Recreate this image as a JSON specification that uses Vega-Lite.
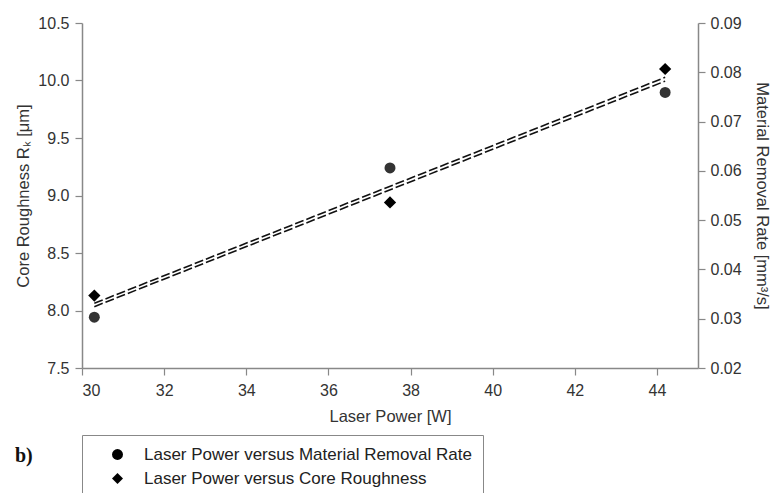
{
  "$schema": "https://vega.github.io/schema/vega-lite/v6.json",
  "width": 616,
  "height": 345,
  "autosize": "none",
  "padding": {"left": 82, "top": 23, "right": 76, "bottom": 125},
  "background": "white",
  "config": {
    "view": {"stroke": null},
    "font": "Liberation Sans",
    "axis": {
      "domainColor": "#888888",
      "tickColor": "#888888",
      "domainWidth": 1.5,
      "tickWidth": 1.2,
      "tickSize": 7,
      "labelFont": "Liberation Sans",
      "labelFontSize": 16,
      "labelColor": "#333333",
      "titleFont": "Liberation Sans",
      "titleFontSize": 16.5,
      "titleFontWeight": "normal",
      "titleColor": "#333333",
      "grid": false
    }
  },
  "title": {
    "text": "b)",
    "orient": "bottom",
    "anchor": "start",
    "frame": "group",
    "font": "Liberation Serif",
    "fontSize": 20,
    "fontWeight": "bold",
    "color": "#111111",
    "dx": -67,
    "dy": -53,
    "offset": 0
  },
  "data": {
    "values": [
      {"power": 30.3, "rk": 8.13, "mrr": 0.0303},
      {"power": 37.5, "rk": 8.94, "mrr": 0.0606},
      {"power": 44.2, "rk": 10.1, "mrr": 0.0759}
    ]
  },
  "layer": [
    {
      "layer": [
        {
          "transform": [{"regression": "rk", "on": "power"}],
          "mark": {"type": "line", "color": "#111111", "strokeWidth": 1.6, "strokeDash": [9, 3]},
          "encoding": {
            "x": {"field": "power", "type": "quantitative"},
            "y": {"field": "rk", "type": "quantitative"}
          }
        },
        {
          "mark": {"type": "point", "filled": true, "opacity": 1, "size": 150},
          "encoding": {
            "x": {
              "field": "power", "type": "quantitative",
              "scale": {"domain": [30, 45], "nice": false, "zero": false},
              "axis": {"values": [30, 32, 34, 36, 38, 40, 42, 44], "title": "Laser Power [W]", "titlePadding": 10, "labelPadding": 7}
            },
            "y": {
              "field": "rk", "type": "quantitative",
              "scale": {"domain": [7.5, 10.5], "nice": false, "zero": false},
              "axis": {"orient": "left", "values": [7.5, 8.0, 8.5, 9.0, 9.5, 10.0, 10.5], "format": ".1f", "title": "Core Roughness Rₖ [μm]", "titlePadding": 6, "labelPadding": 6}
            },
            "shape": {
              "datum": "Laser Power versus Core Roughness",
              "type": "nominal",
              "scale": {"domain": ["Laser Power versus Material Removal Rate", "Laser Power versus Core Roughness"], "range": ["circle", "diamond"]},
              "legend": {
                "title": null,
                "orient": "none",
                "legendX": 0,
                "legendY": 412,
                "strokeColor": "#888888",
                "fillColor": "white",
                "padding": 11,
                "symbolOffset": 16,
                "labelFontSize": 17,
                "labelFont": "Liberation Sans",
                "labelColor": "#222222",
                "labelLimit": 450,
                "labelOffset": 18,
                "rowPadding": 6,
                "symbolSize": 120,
                "symbolFillColor": "#222222",
                "symbolStrokeWidth": 0
              }
            },
            "color": {"value": "#000000"}
          }
        }
      ]
    },
    {
      "layer": [
        {
          "transform": [{"regression": "mrr", "on": "power"}],
          "mark": {"type": "line", "color": "#111111", "strokeWidth": 1.6, "strokeDash": [9, 3]},
          "encoding": {
            "x": {"field": "power", "type": "quantitative"},
            "y": {"field": "mrr", "type": "quantitative"}
          }
        },
        {
          "mark": {"type": "point", "filled": true, "opacity": 1, "size": 120},
          "encoding": {
            "x": {"field": "power", "type": "quantitative"},
            "y": {
              "field": "mrr", "type": "quantitative",
              "scale": {"domain": [0.02, 0.09], "nice": false, "zero": false},
              "axis": {"orient": "right", "values": [0.02, 0.03, 0.04, 0.05, 0.06, 0.07, 0.08, 0.09], "format": ".2f", "title": "Material Removal Rate [mm³/s]", "titlePadding": 12, "labelPadding": 5}
            },
            "shape": {"datum": "Laser Power versus Material Removal Rate", "type": "nominal"},
            "color": {"value": "#333333"}
          }
        }
      ]
    }
  ],
  "resolve": {"scale": {"y": "independent"}}
}
